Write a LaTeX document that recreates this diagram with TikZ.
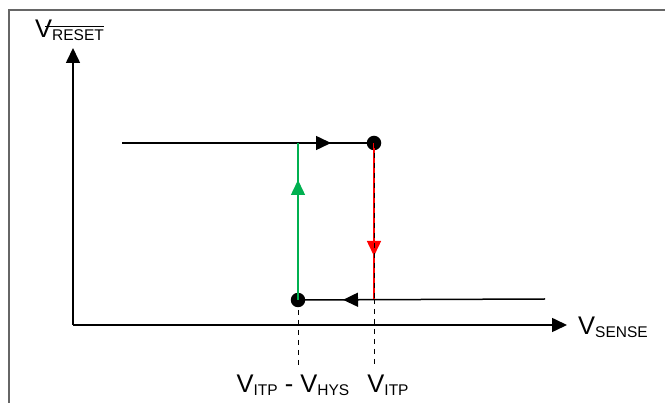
\documentclass[tikz,border=0pt]{standalone}
\usepackage{fontspec}
\setmainfont{Liberation Sans}
\usetikzlibrary{arrows.meta,decorations.markings}
\tikzset{>={Triangle[length=15pt,width=14pt]}}
\definecolor{hysgreen}{RGB}{0,176,80}
\newcommand*{\sub}[1]{\raisebox{-3pt}{\fontsize{15.5}{16}\selectfont #1}}
\newcommand*{\osub}[1]{\sbox0{\sub{#1}}\rlap{\kern-7pt\raisebox{10.5pt}{\rule{\dimexpr\wd0+7pt\relax}{1.3pt}}}\usebox0}

\begin{document}
\begin{tikzpicture}[x=1pt, y=-1pt, font=\fontsize{25.5}{28}\selectfont,
    dot/.style={circle, fill, inner sep=0pt, minimum size=14.5pt},
    drop/.style={dashed, dash pattern=on 5pt off 5pt, line width=.8pt},
    midarrow/.style={postaction={decorate}, decoration={markings, mark=at position #1 with {\arrow{>}}}}]
    \useasboundingbox(0, 0)rectangle(665, 403);
    \draw[black!60, line width=1.3pt](9, 403)--(9, 10)--(665, 10);
    \coordinate(o)at(73, 325);
    \coordinate(ytip)at(73, 48);
    \coordinate(xtip)at(567, 325);
    \coordinate(histart)at(122, 143);
    \coordinate(loend)at(545, 299);
    \coordinate(dropa)at(298, 367);
    \coordinate(dropb)at(374, 365);
    \node[dot](hi)at(374, 143){};
    \node[dot](lo)at(298, 300){};
    \coordinate(g)at(298, 143);
    \coordinate(r)at(374, 299);
    \draw[line width=1.6pt, ->](o)--(ytip);
    \draw[line width=1.6pt, ->](o)--(xtip);
    \node[anchor=base west, inner sep=0pt]at(35, 38){V\osub{RESET}};
    \node[anchor=base west, inner sep=0pt]at(578, 335){V\sub{SENSE}};
    \draw[line width=1.5pt, midarrow=209pt](histart)--(hi.center);
    \draw[line width=1.5pt, midarrow=202pt](loend)--(lo.center);
    \draw[hysgreen, line width=1.5pt, midarrow=120pt](lo.center)--(g);
    \draw[red, line width=1.5pt, midarrow=113pt](hi.center)--(r);
    \draw[drop](hi.center)--(r);
    \draw[drop](lo.center)--(dropa);
    \draw[drop](r)--(dropb);
    \node[anchor=base, inner sep=0pt]at(293, 393){V\sub{ITP} - V\sub{HYS}};
    \node[anchor=base, inner sep=0pt]at(388, 393){V\sub{ITP}};
\end{tikzpicture}
\end{document}
